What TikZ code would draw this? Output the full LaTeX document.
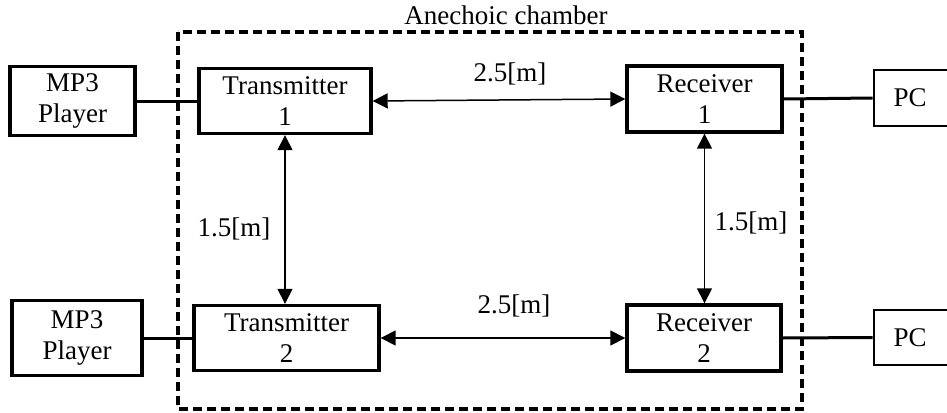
\documentclass[tikz,border=0pt]{standalone}
\usepackage{fontspec}
\setmainfont{Liberation Serif}
\usetikzlibrary{arrows.meta}
\begin{document}
\begin{tikzpicture}[x=1pt,y=-1pt,
  box/.style={draw, line width=3.4pt, minimum height=65pt, align=center, inner sep=0pt,
    font=\fontsize{27}{31}\selectfont},
  lbl/.style={font=\fontsize{27}{30}\selectfont, inner sep=0pt},
  link/.style={line width=3pt},
  dist/.style={line width=1.5pt, {Triangle[length=15pt,width=15pt]}-{Triangle[length=15pt,width=15pt]}},
  chamber/.style={draw, line width=3.2pt, dash pattern=on 9pt off 5pt}]
\useasboundingbox (0,0) rectangle (947,412);
\fill[white] (0,0) rectangle (947,412);
% chamber
\draw[chamber] (178,32) rectangle (802,409);
\node[lbl] (ch) at (506,15) {Anechoic chamber};
% boxes
\node[box, minimum width=125pt, minimum height=69pt] (m1) at (72.5,101) {MP3\\Player};
\node[box, minimum width=130pt, minimum height=75pt] (m2) at (77,338) {MP3\\Player};
\node[box, minimum width=172pt] (t1) at (285,101) {Transmitter\\1};
\node[box, minimum width=185pt] (t2) at (286.5,338) {Transmitter\\2};
\node[box, minimum width=155pt, minimum height=66pt] (r1) at (704.5,99) {Receiver\\1};
\node[box, minimum width=154pt, minimum height=66pt] (r2) at (704,338) {Receiver\\2};
\node[box, minimum width=80pt, minimum height=56pt, line width=2.6pt] (p1) at (914,98) {\hspace*{-8pt}PC};
\node[box, minimum width=80pt, minimum height=55pt, line width=2.6pt] (p2) at (914,337.5) {\hspace*{-8pt}PC};
% links
\draw[link] (m1.east) -- (t1.west);
\draw[link] (m2.east) -- (t2.west);
\draw[link] (r1.east) -- (p1.west);
\draw[link] (r2.east) -- (p2.west);
% distances
\draw[dist] (t1.east) -- (r1.west);
\draw[dist] (t2.east) -- (r2.west);
\draw[dist] (t1.south) -- (t1.south |- t2.north);
\draw[dist] (r1.south) -- (r1.south |- r2.north);
% labels
\node[lbl] (d1) at (510,74) {2.5[m]};
\node[lbl] (d2) at (514,306) {2.5[m]};
\node[lbl] (d3) at (234,229) {1.5[m]};
\node[lbl] (d4) at (751,223) {1.5[m]};
\end{tikzpicture}
\end{document}
